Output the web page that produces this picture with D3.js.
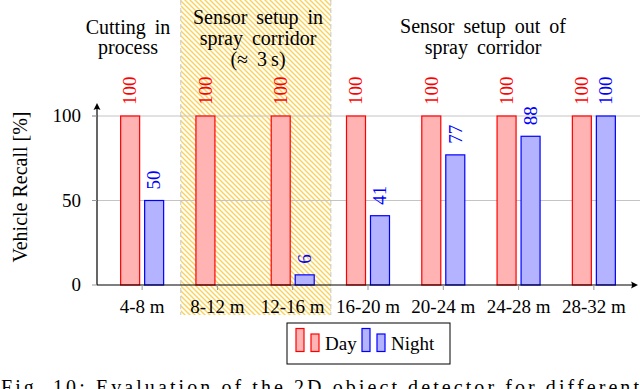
<!DOCTYPE html>
<html>
<head>
<meta charset="utf-8">
<script src="https://cdn.jsdelivr.net/npm/d3@7"></script>
</head>
<body style="margin:0">
<script>
var categories = ["4-8 m", "8-12 m", "12-16 m", "16-20 m", "20-24 m", "24-28 m", "28-32 m"];
var series = ["Day", "Night"];
var dayValues = [100, 100, 100, 100, 100, 100, 100];
var nightValues = [50, 0, 6, 41, 77, 88, 100];
var yTicks = [0, 50, 100];
var titleCut = ["Cutting in", "process"];
var titleIn = ["Sensor setup in", "spray corridor", "(\u2248 3\u2009s)"];
var titleOut = ["Sensor setup out of", "spray corridor"];
var caption = "Fig. 10: Evaluation of the 2D object detector for different";

var svgWidth = 640, svgHeight = 389;
var colors = {Day: {fill: "#ffb3b3", stroke: "#ff0000"}, Night: {fill: "#b3b3ff", stroke: "#0000ff"}};

var svg = d3.select("body").append("svg")
    .attr("width", svgWidth)
    .attr("height", svgHeight)
    .style("font-family", "Liberation Serif");

var xscale = d3.scaleBand().domain(categories).range([104.5, 631.5]).paddingInner(0).paddingOuter(0);
var inner = d3.scaleBand().domain(series).range([-22, 22]).paddingInner(4 / 24);
var yscale = d3.scaleLinear().domain([0, 100]).range([285, 116]);

// hatched spray corridor region
var pat = svg.append("defs").append("pattern")
    .attr("id", "hatch")
    .attr("patternUnits", "userSpaceOnUse")
    .attr("width", 5).attr("height", 5);
pat.append("path")
    .attr("d", "M-1,-1 L6,6 M-1,4 L1,6 M4,-1 L6,1")
    .attr("stroke", "#fad257")
    .attr("stroke-width", 1.4);

var hx0 = xscale(categories[1]) + 1, hx1 = xscale(categories[2]) + xscale.bandwidth() + 0.5;
svg.append("rect")
    .attr("x", hx0).attr("y", 0)
    .attr("width", hx1 - hx0).attr("height", 315)
    .attr("fill", "url(#hatch)");
[hx0, hx1].forEach(function(x){
    svg.append("line")
        .attr("x1", x).attr("x2", x).attr("y1", 0).attr("y2", 315)
        .attr("stroke", "#c8c8c8").attr("stroke-width", 1)
        .attr("stroke-dasharray", "5,3");
});

// grid
yTicks.filter(d => d > 0).forEach(function(t){
    svg.append("line")
        .attr("x1", 92).attr("x2", 640)
        .attr("y1", yscale(t)).attr("y2", yscale(t))
        .attr("stroke", "#c4c4c4").attr("stroke-width", 1);
});

// bars
var rows = categories.map((c, i) => ({cat: c, Day: dayValues[i], Night: nightValues[i]}));
var groups = svg.selectAll("g.grp").data(rows).enter().append("g")
    .attr("class", "grp")
    .attr("transform", d => `translate(${xscale(d.cat) + xscale.bandwidth() / 2},0)`);

series.forEach(function(s){
    groups.filter(d => d[s] > 0).append("rect")
        .attr("x", inner(s) + 0.5)
        .attr("y", d => yscale(d[s]))
        .attr("width", inner.bandwidth() - 1)
        .attr("height", d => yscale(0) - yscale(d[s]))
        .attr("fill", colors[s].fill)
        .attr("stroke", colors[s].stroke)
        .attr("stroke-width", 1.2);

    groups.filter(d => d[s] > 0).append("text")
        .attr("transform", d => `translate(${inner(s) + inner.bandwidth() / 2},${yscale(d[s]) - 11}) rotate(-90)`)
        .attr("dy", "0.33em")
        .attr("font-size", 19)
        .attr("fill", colors[s].stroke)
        .text(d => d[s]);
});

// axes
svg.append("line").attr("x1", 97).attr("x2", 97).attr("y1", 285).attr("y2", 106)
    .attr("stroke", "black").attr("stroke-width", 1.2);
svg.append("path").attr("d", "M97,103 L93.5,110 Q97,108 100.5,110 Z").attr("fill", "black");
svg.append("line").attr("x1", 97).attr("x2", 635).attr("y1", 285).attr("y2", 285)
    .attr("stroke", "black").attr("stroke-width", 1.2);
svg.append("path").attr("d", "M638,285 L631,281.5 Q633,285 631,288.5 Z").attr("fill", "black");

// y ticks
yTicks.forEach(function(t){
    svg.append("line").attr("x1", 92).attr("x2", 97)
        .attr("y1", yscale(t)).attr("y2", yscale(t))
        .attr("stroke", "#999").attr("stroke-width", 1);
    svg.append("text")
        .attr("x", 81).attr("y", yscale(t)).attr("dy", "0.33em")
        .attr("text-anchor", "end")
        .attr("font-size", 19)
        .text(t);
});

// x ticks
categories.forEach(function(c){
    var cx = xscale(c) + xscale.bandwidth() / 2;
    svg.append("line").attr("x1", cx).attr("x2", cx).attr("y1", 285).attr("y2", 290)
        .attr("stroke", "#999").attr("stroke-width", 1);
    svg.append("text")
        .attr("x", cx).attr("y", 313)
        .attr("text-anchor", "middle")
        .attr("font-size", 19)
        .text(c);
});

// y label
svg.append("text")
    .attr("transform", "translate(27,187) rotate(-90)")
    .attr("text-anchor", "middle")
    .attr("font-size", 20)
    .text("Vehicle Recall [%]");

// region titles
function title(lines, x, y0, step){
    lines.forEach(function(l, i){
        svg.append("text")
            .attr("x", x).attr("y", y0 + i * step)
            .attr("text-anchor", "middle")
            .attr("font-size", 20)
            .attr("word-spacing", 4)
            .text(l);
    });
}
title(titleCut, 128, 34, 20);
title(titleIn, 258, 24, 21);
title(titleOut, 483, 33, 21);

// legend
var lg = svg.append("g");
lg.append("rect").attr("x", 287).attr("y", 323).attr("width", 163).attr("height", 41)
    .attr("fill", "white").attr("stroke", "black").attr("stroke-width", 1);
var legendX = {Day: 296, Night: 362};
series.forEach(function(s){
    var x0 = legendX[s];
    lg.append("rect").attr("x", x0).attr("y", 328.5).attr("width", 8).attr("height", 23)
        .attr("fill", colors[s].fill).attr("stroke", colors[s].stroke).attr("stroke-width", 1.2);
    lg.append("rect").attr("x", x0 + 15).attr("y", 334).attr("width", 8).attr("height", 17.5)
        .attr("fill", colors[s].fill).attr("stroke", colors[s].stroke).attr("stroke-width", 1.2);
    lg.append("text").attr("x", x0 + 29).attr("y", 350)
        .attr("font-size", 19).text(s);
});

// caption, cut off at the bottom edge as in the source
svg.append("text")
    .attr("x", 1).attr("y", 394)
    .attr("font-size", 20)
    .attr("textLength", 638)
    .attr("lengthAdjust", "spacing")
    .text(caption);
</script>
</body>
</html>
